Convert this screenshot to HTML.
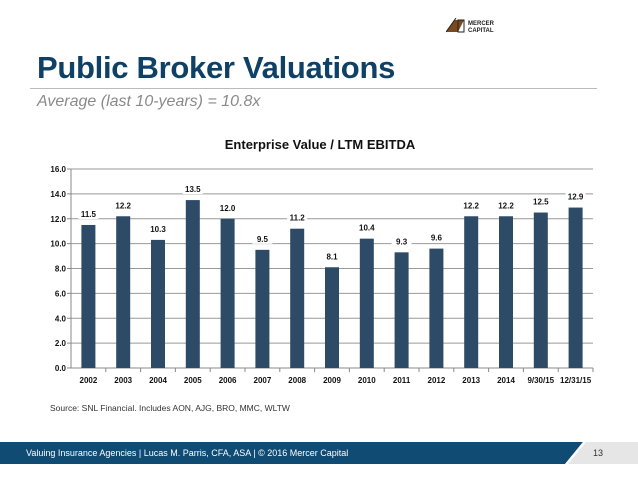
<!DOCTYPE html>
<html><head><meta charset="utf-8"><style>
body{margin:0;width:638px;height:479px;background:#fff;position:relative;overflow:hidden;font-family:"Liberation Sans",sans-serif}
.abs{position:absolute}
</style></head><body>
<div class="abs" style="left:446px;top:18px;width:60px;height:16px">
<svg width="60" height="16"><polygon points="0,14 8,2 18,2 12,14" fill="#7a4a1e"/><line x1="0" y1="14" x2="10" y2="0" stroke="#222" stroke-width="1"/><rect x="12" y="2" width="6" height="12" fill="none" stroke="#222"/>
<text x="22" y="7" font-size="6" font-weight="bold" fill="#222" font-family="Liberation Sans">MERCER</text><text x="22" y="14" font-size="6" font-weight="bold" fill="#222" font-family="Liberation Sans">CAPITAL</text></svg></div>
<div class="abs" style="left:37px;top:50px;font-size:31px;font-weight:bold;color:#0f4166;letter-spacing:-0.3px">Public Broker Valuations</div>
<div class="abs" style="left:30px;top:88px;width:567px;height:1px;background:#bbb"></div>
<div class="abs" style="left:37px;top:93px;font-size:16px;font-style:italic;color:#8a8a8a">Average (last 10-years) = 10.8x</div>
<svg class="abs" style="left:0;top:0" width="638" height="479" id="chart">
<text x="320" y="149" text-anchor="middle" font-size="13" font-weight="bold" fill="#111" font-family="Liberation Sans">Enterprise Value / LTM EBITDA</text>
</svg>
<div class="abs" style="left:50px;top:403px;font-size:8.5px;color:#333">Source: SNL Financial. Includes AON, AJG, BRO, MMC, WLTW</div>
<div class="abs" style="left:0;top:442px;width:638px;height:22px;background:#e6e6e6"></div>
<svg class="abs" style="left:0;top:442px" width="638" height="22"><polygon points="0,0 583,0 565,22 0,22" fill="#0f4b73"/><polygon points="583,0 586,0 568,22 565,22" fill="#fff"/></svg>
<div class="abs" style="left:26px;top:448px;font-size:9px;color:#fff">Valuing Insurance Agencies | Lucas M. Parris, CFA, ASA | © 2016 Mercer Capital</div>
<div class="abs" style="left:487px;top:448px;width:0;font-size:9px;color:#333"><span style="position:absolute;left:106px">13</span></div>
<script>
const categories=["2002","2003","2004","2005","2006","2007","2008","2009","2010","2011","2012","2013","2014","9/30/15","12/31/15"];
const values=[11.5,12.2,10.3,13.5,12.0,9.5,11.2,8.1,10.4,9.3,9.6,12.2,12.2,12.5,12.9];
const yTicks=[0,2,4,6,8,10,12,14,16];
const svg=document.getElementById('chart');const NS='http://www.w3.org/2000/svg';
const X0=71,X1=593,Y0=368,Y1=169,YMAX=16;
const step=(X1-X0)/categories.length;
const y=v=>Y0-(v/YMAX)*(Y0-Y1);
const xc=i=>X0+step*(i+0.5);
function mk(t,a){const e=document.createElementNS(NS,t);for(const k in a)e.setAttribute(k,a[k]);svg.appendChild(e);return e;}
yTicks.forEach(t=>{
 const g=mk('line',{x1:X0,x2:X1,y1:y(t),y2:y(t),stroke:t===0?'#888':'#999','stroke-width':1});
 
 
 const tk=mk('line',{x1:X0-4,x2:X0,y1:y(t),y2:y(t),stroke:'#888'});
 
 
 const l=mk('text',{x:X0-5,y:y(t)+3,'text-anchor':'end','font-size':8,'font-weight':'bold',fill:'#111','font-family':'Liberation Sans'});
 l.textContent=t.toFixed(1);
 
 
});
const ax=mk('line',{x1:X0,x2:X0,y1:Y1,y2:Y0,stroke:'#888'});


categories.forEach((c,i)=>{
 const tk=mk('line',{x1:X0+step*(i+1),x2:X0+step*(i+1),y1:Y0,y2:Y0+4,stroke:'#888'});
 
 
 const b=mk('rect',{x:xc(i)-7,y:y(values[i]),width:14,height:Y0-y(values[i]),fill:'#2d4a66'});
 
 
 const lbl=values[i].toFixed(1);
 const bg=mk('rect',{x:xc(i)-10,y:y(values[i])-17,width:20,height:11,fill:'#fff'});
 
 
 const v=mk('text',{x:xc(i),y:y(values[i])-8,'text-anchor':'middle','font-size':8,'font-weight':'bold',fill:'#111','font-family':'Liberation Sans'});
 v.textContent=lbl;
 
 
 const xl=mk('text',{x:xc(i),y:Y0+15,'text-anchor':'middle','font-size':8,'font-weight':'bold',fill:'#111','font-family':'Liberation Sans'});
 xl.textContent=c;
 
 
});
</script>
</body></html>
